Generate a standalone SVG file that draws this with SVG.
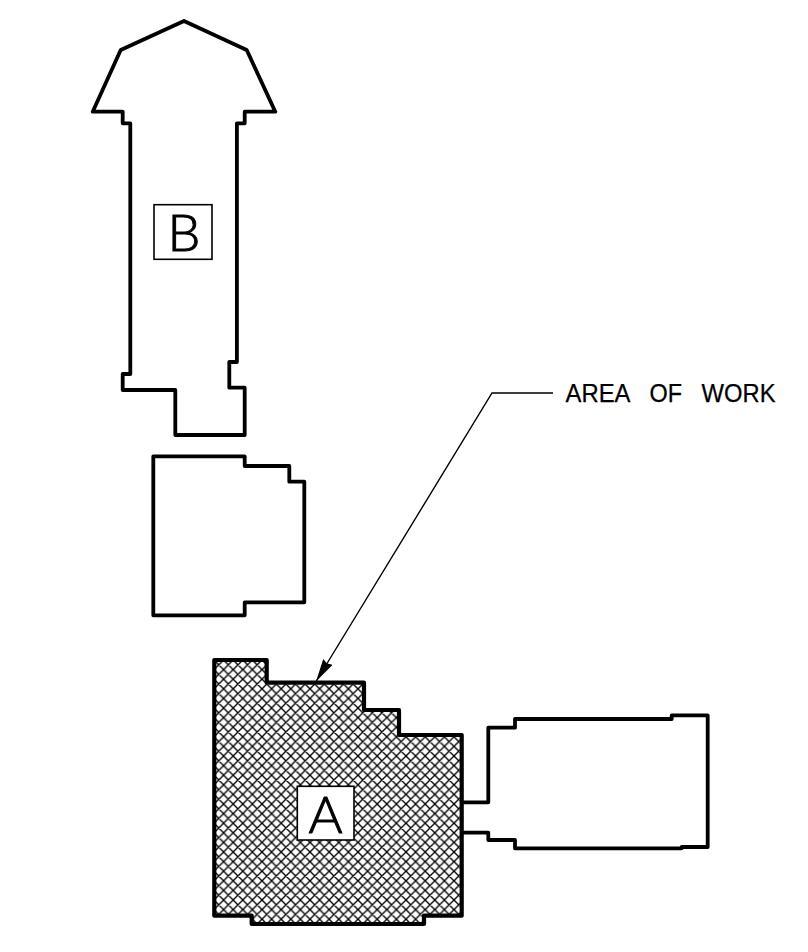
<svg xmlns="http://www.w3.org/2000/svg" width="808" height="952" viewBox="0 0 808 952">
<style>
.wall{fill:none;stroke:#000;stroke-width:3.8;stroke-linejoin:round;stroke-linecap:round}
.tag{fill:#fff;stroke:#000;stroke-width:1.6}
.big{font-family:"Lato","Liberation Sans",Arial,sans-serif;font-weight:300;font-size:52px;fill:#000;stroke:#000;stroke-width:1;text-anchor:middle}
.note{font-family:"Liberation Sans",Arial,sans-serif;font-size:25px;fill:#000;stroke:#000;stroke-width:0.25}
.lead{fill:none;stroke:#000;stroke-width:1.4}
</style>
<defs>
<pattern id="hatch" patternUnits="userSpaceOnUse" width="9.6" height="9.6" x="214" y="660">
<path d="M0 9.6L9.6 0M-1 1L1-1M8.6 10.6L10.6 8.6M0 0L9.6 9.6M-1 8.6L1 10.6M8.6-1L10.6 1" stroke="#000" stroke-width="1.35" fill="none"/>
</pattern>
<marker id="head" markerUnits="userSpaceOnUse" markerWidth="26" markerHeight="14" refX="23" refY="7" orient="auto">
<path d="M0 1.5L23 7L0 12.5L2 7Z" fill="#000"/>
</marker>
</defs>
<rect width="808" height="952" fill="#fff"/>
<g id="building-b">
<path class="wall" d="M184 21L246.7 50L275.3 111.7H244.7V123.3H236.9V362H229.3V387.7H244.7V435H175.3V390H122.7V374H130.3V123.3H122.7V111.7H92.7L120.7 50Z"/>
<rect class="tag" x="154" y="204.7" width="58" height="54.6"/>
<text class="big" x="184" y="250.5">B</text>
</g>
<g id="block-lower">
<path class="wall" d="M153.3 456.3H244.7V466H289.3V481.7H304.3V602.3H244.7V615.3H153.3Z"/>
</g>
<g id="building-a">
<path d="M214.3 660H266.7V682.7H364V710H399V735H461.7V915.7H424V924H251.7V915.7H214.3Z" fill="url(#hatch)"/>
<path class="wall" style="stroke-width:4.2" d="M214.3 660H266.7V682.7H364V710H399V735H461.7V915.7H424V924H251.7V915.7H214.3Z"/>
<rect class="tag" x="297.3" y="786.3" width="56.7" height="53.7"/>
<text class="big" x="325.5" y="832.7">A</text>
</g>
<g id="block-right">
<path class="wall" d="M461.7 802.3H488.3V727.7H515V719H671.7V715.3H707.7V847H681.7V848.3H515V840H488.3V832.7H461.7"/>
</g>
<g id="connectors">
<path class="lead" d="M553 393H492L316 681.5" marker-end="url(#head)"/>
</g>
<g id="label-area">
<text class="note" y="402.3"><tspan x="565.5" textLength="65" lengthAdjust="spacingAndGlyphs">AREA</tspan><tspan x="649.5" textLength="32.5" lengthAdjust="spacingAndGlyphs">OF</tspan><tspan x="701.5" textLength="74" lengthAdjust="spacingAndGlyphs">WORK</tspan></text>
</g>
</svg>
